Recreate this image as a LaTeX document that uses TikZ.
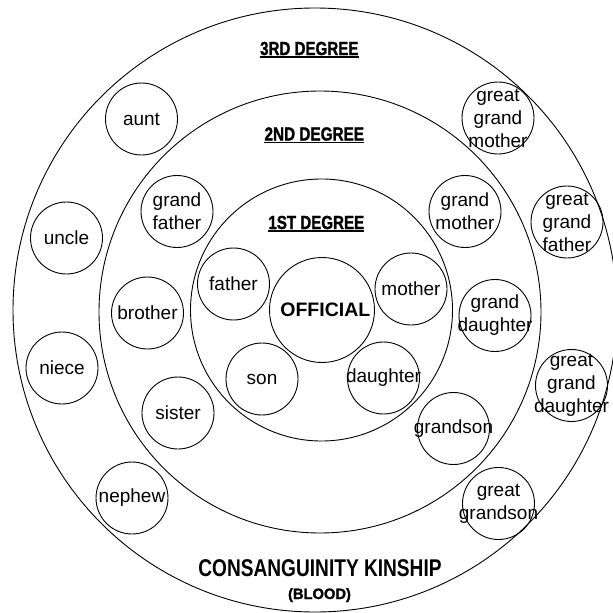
\documentclass[tikz,border=0pt]{standalone}
\usepackage{fontspec}
\setmainfont{Liberation Sans}
\newfontfamily\heavyfont[FakeBold=1.5]{Liberation Sans Bold}
\usepackage{graphicx}
\newcommand\hdtext[2]{\scalebox{#1}[1]{#2}}
\tikzset{
  ring/.style={draw, circle, line width=0.9pt, inner sep=0pt},
  person/.style={draw, circle, line width=0.9pt, inner sep=0pt, minimum size=72pt},
  lbl/.style={inner sep=0pt, align=center, font=\fontsize{19}{23}\selectfont},
  head/.style={inner sep=0pt, anchor=base, font=\fontsize{18.9}{20}\selectfont\heavyfont},
  uline/.style={line width=1.3pt}
}
\begin{document}
\begin{tikzpicture}[x=1pt,y=-1pt]
\useasboundingbox (0,0) rectangle (613,613);
% rings
\node[ring, minimum size=604pt] (outer) at (315,310) {};
\node[ring, minimum size=442pt] (second) at (320,312) {};
\node[ring, minimum size=262pt] (first) at (321.5,310) {};
\node[ring, minimum size=105pt] (official) at (322,310) {};
\node[inner sep=0pt, anchor=base, font=\fontsize{19.5}{20}\selectfont\bfseries] (offtxt) at (325.3,316.7) {OFFICIAL};
% headings
\node[head] (h3) at (309.3,55) {\hdtext{0.80}{3RD DEGREE}};
\node[head] (h2) at (314.3,140.5) {\hdtext{0.81}{2ND DEGREE}};
\node[head] (h1) at (316.3,229) {\hdtext{0.80}{1ST DEGREE}};
\draw[uline] ([yshift=-2pt]h3.base west) -- ([yshift=-2pt]h3.base east);
\draw[uline] ([yshift=-2pt]h2.base west) -- ([yshift=-2pt]h2.base east);
\draw[uline] ([yshift=-2pt]h1.base west) -- ([yshift=-2pt]h1.base east);
\node[inner sep=0pt, anchor=base, font=\fontsize{24.2}{26}\selectfont\bfseries] (title) at (320,576.7) {\hdtext{0.79}{CONSANGUINITY KINSHIP}};
\node[inner sep=0pt, anchor=base, font=\fontsize{15}{16}\selectfont\heavyfont] (blood) at (319.5,599) {\hdtext{0.98}{(BLOOD)}};
% 1st degree
\node[person] (father) at (233.5,284) {};
\node[lbl] (fathert) at (father) {father};
\node[person] (mother) at (411,289) {};
\node[lbl] (mothert) at (mother) {mother};
\node[person] (son) at (262,379) {};
\node[lbl] (sont) at (son) {son};
\node[person] (daughter) at (383.5,378) {};
\node[lbl] (daughtert) at (daughter) {daughter};
% 2nd degree
\node[person] (gfather) at (177,211.5) {};
\node[lbl] (gfathert) at (gfather) {grand\\father};
\node[person] (brother) at (147.5,313) {};
\node[lbl] (brothert) at (brother) {brother};
\node[person] (sister) at (178,413) {};
\node[lbl] (sistert) at (sister) {sister};
\node[person] (gmother) at (465,211.5) {};
\node[lbl] (gmothert) at (gmother) {grand\\mother};
\node[person] (gdaughter) at (495,315.5) {};
\node[lbl] (gdaughtert) at (gdaughter) {grand\\daughter};
\node[person] (gson) at (453.5,428.5) {};
\node[lbl] (gsont) at (gson) {grandson};
% 3rd degree
\node[person] (aunt) at (141.5,119) {};
\node[lbl] (auntt) at (aunt) {aunt};
\node[person] (uncle) at (66.5,238) {};
\node[lbl] (unclet) at (uncle) {uncle};
\node[person] (niece) at (62,368) {};
\node[lbl] (niecet) at (niece) {niece};
\node[person] (nephew) at (132,498) {};
\node[lbl] (nephewt) at (nephew) {nephew};
\node[person] (ggmother) at (498,118) {};
\node[lbl] (ggmothert) at (ggmother) {great\\grand\\mother};
\node[person] (ggfather) at (567,222) {};
\node[lbl] (ggfathert) at (ggfather) {great\\grand\\father};
\node[person] (ggdaughter) at (571.5,385.5) {};
\node[lbl] (ggdaughtert) at (ggdaughter) {great\\grand\\daughter};
\node[person] (ggson) at (498.5,503.5) {};
\node[lbl] (ggsont) at (ggson) {great\\grandson};
\end{tikzpicture}
\end{document}
